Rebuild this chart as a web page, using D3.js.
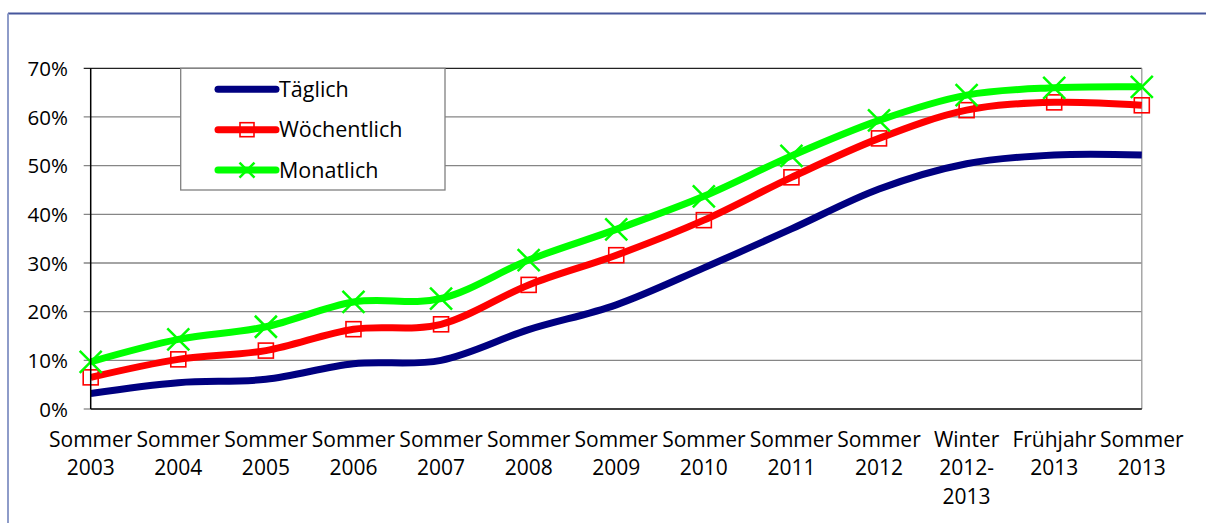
<!DOCTYPE html>
<html lang="de">
<head>
<meta charset="utf-8">
<title>Nutzung</title>
<script src="https://cdnjs.cloudflare.com/ajax/libs/d3/7.8.5/d3.min.js"></script>
<style>
body { margin: 0; background: #fff; }
svg { display: block; font-family: "Open Sans", sans-serif; }
</style>
</head>
<body>
<div id="chart"></div>
<script>

// categories (lines of each label split by "|")
var categories = ['Sommer|2003', 'Sommer|2004', 'Sommer|2005', 'Sommer|2006', 'Sommer|2007',
    'Sommer|2008', 'Sommer|2009', 'Sommer|2010', 'Sommer|2011', 'Sommer|2012',
    'Winter|2012-|2013', 'Frühjahr|2013', 'Sommer|2013']

var taeglich    = [3.2, 5.4, 6.1, 9.3, 10.0, 16.3, 21.4, 29.0, 37.0, 45.2, 50.4, 52.2, 52.2]
var woechentlich = [6.5, 10.2, 12.0, 16.4, 17.4, 25.5, 31.6, 38.8, 47.6, 55.6, 61.4, 63.0, 62.4]
var monatlich   = [9.7, 14.3, 16.9, 22.0, 22.7, 30.6, 36.9, 43.7, 52.0, 59.3, 64.5, 66.0, 66.2]

var yTicks = [0, 10, 20, 30, 40, 50, 60, 70]

var seriesNames = ['Täglich', 'Wöchentlich', 'Monatlich']
var seriesColors = ['#000080', '#ff0000', '#00ff00']
var seriesMarkers = ['none', 'square', 'cross']

var width = 1206, height = 523
var plot = { left: 90.7, right: 1141.8, top: 68.3, bottom: 409 }

var svg = d3.select('#chart').append('svg')
    .attr('width', width)
    .attr('height', height)

// outer frame (only top and left edge visible)
svg.append('line')
    .attr('x1', 8).attr('x2', width).attr('y1', 13.5).attr('y2', 13.5)
    .attr('stroke', '#46569c').attr('stroke-width', 2)
svg.append('line')
    .attr('x1', 8).attr('x2', 8).attr('y1', 13.5).attr('y2', height)
    .attr('stroke', '#8e9cc9').attr('stroke-width', 2)

var x = d3.scalePoint()
    .domain(d3.range(categories.length))
    .range([plot.left, plot.right])

var y = d3.scaleLinear()
    .domain([0, 70])
    .range([plot.bottom, plot.top])

// gridlines + tick marks
var grid = svg.append('g')
grid.selectAll('line.grid')
    .data(yTicks.filter(function(d) { return d > 0 }))
    .enter().append('line')
    .attr('class', 'grid')
    .attr('x1', plot.left - 7).attr('x2', plot.right)
    .attr('y1', function(d) { return y(d) }).attr('y2', function(d) { return y(d) })
    .attr('stroke', function(d) { return d == 70 ? '#222' : '#868686' })
    .attr('stroke-width', 1.3)
grid.append('line')
    .attr('x1', plot.left - 7).attr('x2', plot.left)
    .attr('y1', y(0)).attr('y2', y(0))
    .attr('stroke', '#868686').attr('stroke-width', 1.3)

// plot area right edge
svg.append('line')
    .attr('x1', plot.right).attr('x2', plot.right)
    .attr('y1', plot.top).attr('y2', plot.bottom)
    .attr('stroke', '#999').attr('stroke-width', 1.3)

// y tick labels
svg.append('g').selectAll('text')
    .data(yTicks)
    .enter().append('text')
    .attr('x', 68)
    .attr('y', function(d) { return y(d) })
    .attr('dy', '0.38em')
    .attr('text-anchor', 'end')
    .attr('font-size', 20.5)
    .text(function(d) { return d + '%' })

// legend
var legend = svg.append('g')
legend.append('rect')
    .attr('x', 180.7).attr('y', plot.top)
    .attr('width', 264.3).attr('height', 121.7)
    .attr('fill', '#fff').attr('stroke', '#808080').attr('stroke-width', 1.3)

function drawMarker(g, type, cx, cy, color, size) {
    if (type == 'square') {
        g.append('rect')
            .attr('x', cx - size / 2).attr('y', cy - size / 2)
            .attr('width', size).attr('height', size)
            .attr('fill', 'none').attr('stroke', color).attr('stroke-width', 1.6)
    } else if (type == 'cross') {
        var h = size / 2
        g.append('path')
            .attr('d', 'M' + (cx - h) + ',' + (cy - h) + 'L' + (cx + h) + ',' + (cy + h) +
                'M' + (cx - h) + ',' + (cy + h) + 'L' + (cx + h) + ',' + (cy - h))
            .attr('stroke', color).attr('stroke-width', 2.5).attr('fill', 'none')
    }
}

seriesNames.forEach(function(name, i) {
    var ly = 89.3 + i * 40.4
    legend.append('line')
        .attr('x1', 218).attr('x2', 276).attr('y1', ly).attr('y2', ly)
        .attr('stroke', seriesColors[i]).attr('stroke-width', 7)
        .attr('stroke-linecap', 'round')
    drawMarker(legend, seriesMarkers[i], 247, ly, seriesColors[i], i == 2 ? 15 : 14)
    legend.append('text')
        .attr('x', 279).attr('y', ly)
        .attr('dy', '0.36em')
        .attr('font-size', 21.5)
        .text(name)
})

// series
var allSeries = [taeglich, woechentlich, monatlich]
var line = d3.line()
    .x(function(d, i) { return x(i) })
    .y(function(d) { return y(d) })
    .curve(d3.curveCardinal.tension(0))

var seriesG = svg.append('g')
allSeries.forEach(function(values, i) {
    seriesG.append('path')
        .datum(values)
        .attr('d', line)
        .attr('fill', 'none')
        .attr('stroke', seriesColors[i])
        .attr('stroke-width', 7)
        .attr('stroke-linejoin', 'round')
})
allSeries.forEach(function(values, i) {
    values.forEach(function(v, j) {
        drawMarker(seriesG, seriesMarkers[i], x(j), y(v), seriesColors[i], i == 2 ? 22 : 15)
    })
})

// axes lines
svg.append('line')
    .attr('x1', plot.left).attr('x2', plot.left)
    .attr('y1', plot.top).attr('y2', plot.bottom)
    .attr('stroke', '#000').attr('stroke-width', 1.5)
svg.append('line')
    .attr('x1', plot.left).attr('x2', plot.right)
    .attr('y1', plot.bottom).attr('y2', plot.bottom)
    .attr('stroke', '#000').attr('stroke-width', 1.5)

// category labels
var xLabels = svg.append('g').selectAll('text')
    .data(categories)
    .enter().append('text')
    .attr('text-anchor', 'middle')
    .attr('font-size', 21)
    .attr('transform', function(d, i) { return 'translate(' + x(i) + ',' + 446.7 + ')' })

xLabels.selectAll('tspan')
    .data(function(d) { return d.split('|') })
    .enter().append('tspan')
    .attr('x', 0)
    .attr('y', function(d, i) { return i * 28.7 })
    .text(function(d) { return d })

</script>
</body>
</html>
